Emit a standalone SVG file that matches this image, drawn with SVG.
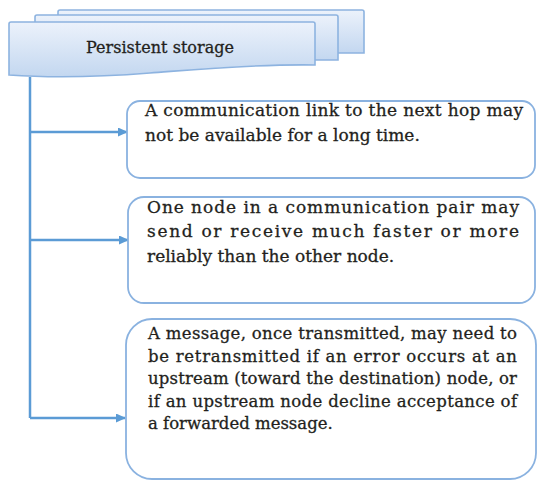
<svg xmlns="http://www.w3.org/2000/svg" width="537" height="482" viewBox="0 0 537 482">
<style>
.doc{fill:url(#g);stroke:#8db3e0;stroke-width:1.6}
.box{fill:#fff;stroke:#8ab2e0;stroke-width:1.8}
.t{font-family:"DejaVu Serif","Liberation Serif",serif;font-size:17px;fill:#231f1c;stroke:#231f1c;stroke-width:0.3}
.t3{font-size:16.5px}
.c{fill:none;stroke:#5b9bd5;stroke-width:2.5}
</style>
<defs>
<linearGradient id="g" x1="0" y1="0" x2="0" y2="1">
<stop offset="0" stop-color="#ecf2fb"/>
<stop offset="1" stop-color="#c3d7f0"/>
</linearGradient>
<marker id="a" markerUnits="userSpaceOnUse" markerWidth="11" markerHeight="10" refX="9" refY="4.5" orient="auto">
<path d="M0,0 L10,4.5 L0,9 z" fill="#5b9bd5"/>
</marker>
</defs>
<g id="persistent-storage">
<path class="doc" d="M58,12 Q58,10 60,10 H362 Q364,10 364,12 V53 H58 Z"/>
<path class="doc" d="M35,17 Q35,15 37,15 H336 Q338,15 338,17 V60 H35 Z"/>
<path class="doc" d="M9,24 Q9,22 11,22 H313 Q315,22 315,24 V65 C250,64 190,70 150,73 C100,77 50,78 9,75 Z"/>
<text class="t" x="86" y="53" font-size="16.5" textLength="148" lengthAdjust="spacingAndGlyphs">Persistent storage</text>
</g>
<g id="connectors">
<path class="c" d="M30,77 V418"/>
<path class="c" d="M30,132 H127" marker-end="url(#a)"/>
<path class="c" d="M30,240 H128" marker-end="url(#a)"/>
<path class="c" d="M30,418 H125" marker-end="url(#a)"/>
</g>
<g id="node1">
<rect class="box" x="127" y="101" width="408" height="77" rx="13"/>
<text class="t" x="145" y="116" textLength="378" lengthAdjust="spacing">A communication link to the next hop may</text>
<text class="t" x="145" y="141">not be available  for a long time.</text>
</g>
<g id="node2">
<rect class="box" x="128" y="197" width="407" height="106" rx="16"/>
<text class="t" x="147" y="213" textLength="372" lengthAdjust="spacing">One node in a communication pair may</text>
<text class="t" x="147" y="237" textLength="372" lengthAdjust="spacing">send or receive much faster or more</text>
<text class="t" x="147" y="262">reliably than the other node.</text>
</g>
<g id="node3">
<rect class="box" x="126" y="319" width="410" height="160" rx="26"/>
<text class="t t3" x="148" y="339" textLength="369" lengthAdjust="spacing">A message, once transmitted, may need to</text>
<text class="t t3" x="148" y="362" textLength="369" lengthAdjust="spacing">be retransmitted if an error occurs at an</text>
<text class="t t3" x="148" y="384" textLength="369" lengthAdjust="spacing">upstream (toward the destination) node, or</text>
<text class="t t3" x="148" y="407" textLength="369" lengthAdjust="spacing">if an upstream node decline acceptance of</text>
<text class="t t3" x="148" y="429">a forwarded message.</text>
</g>
</svg>
